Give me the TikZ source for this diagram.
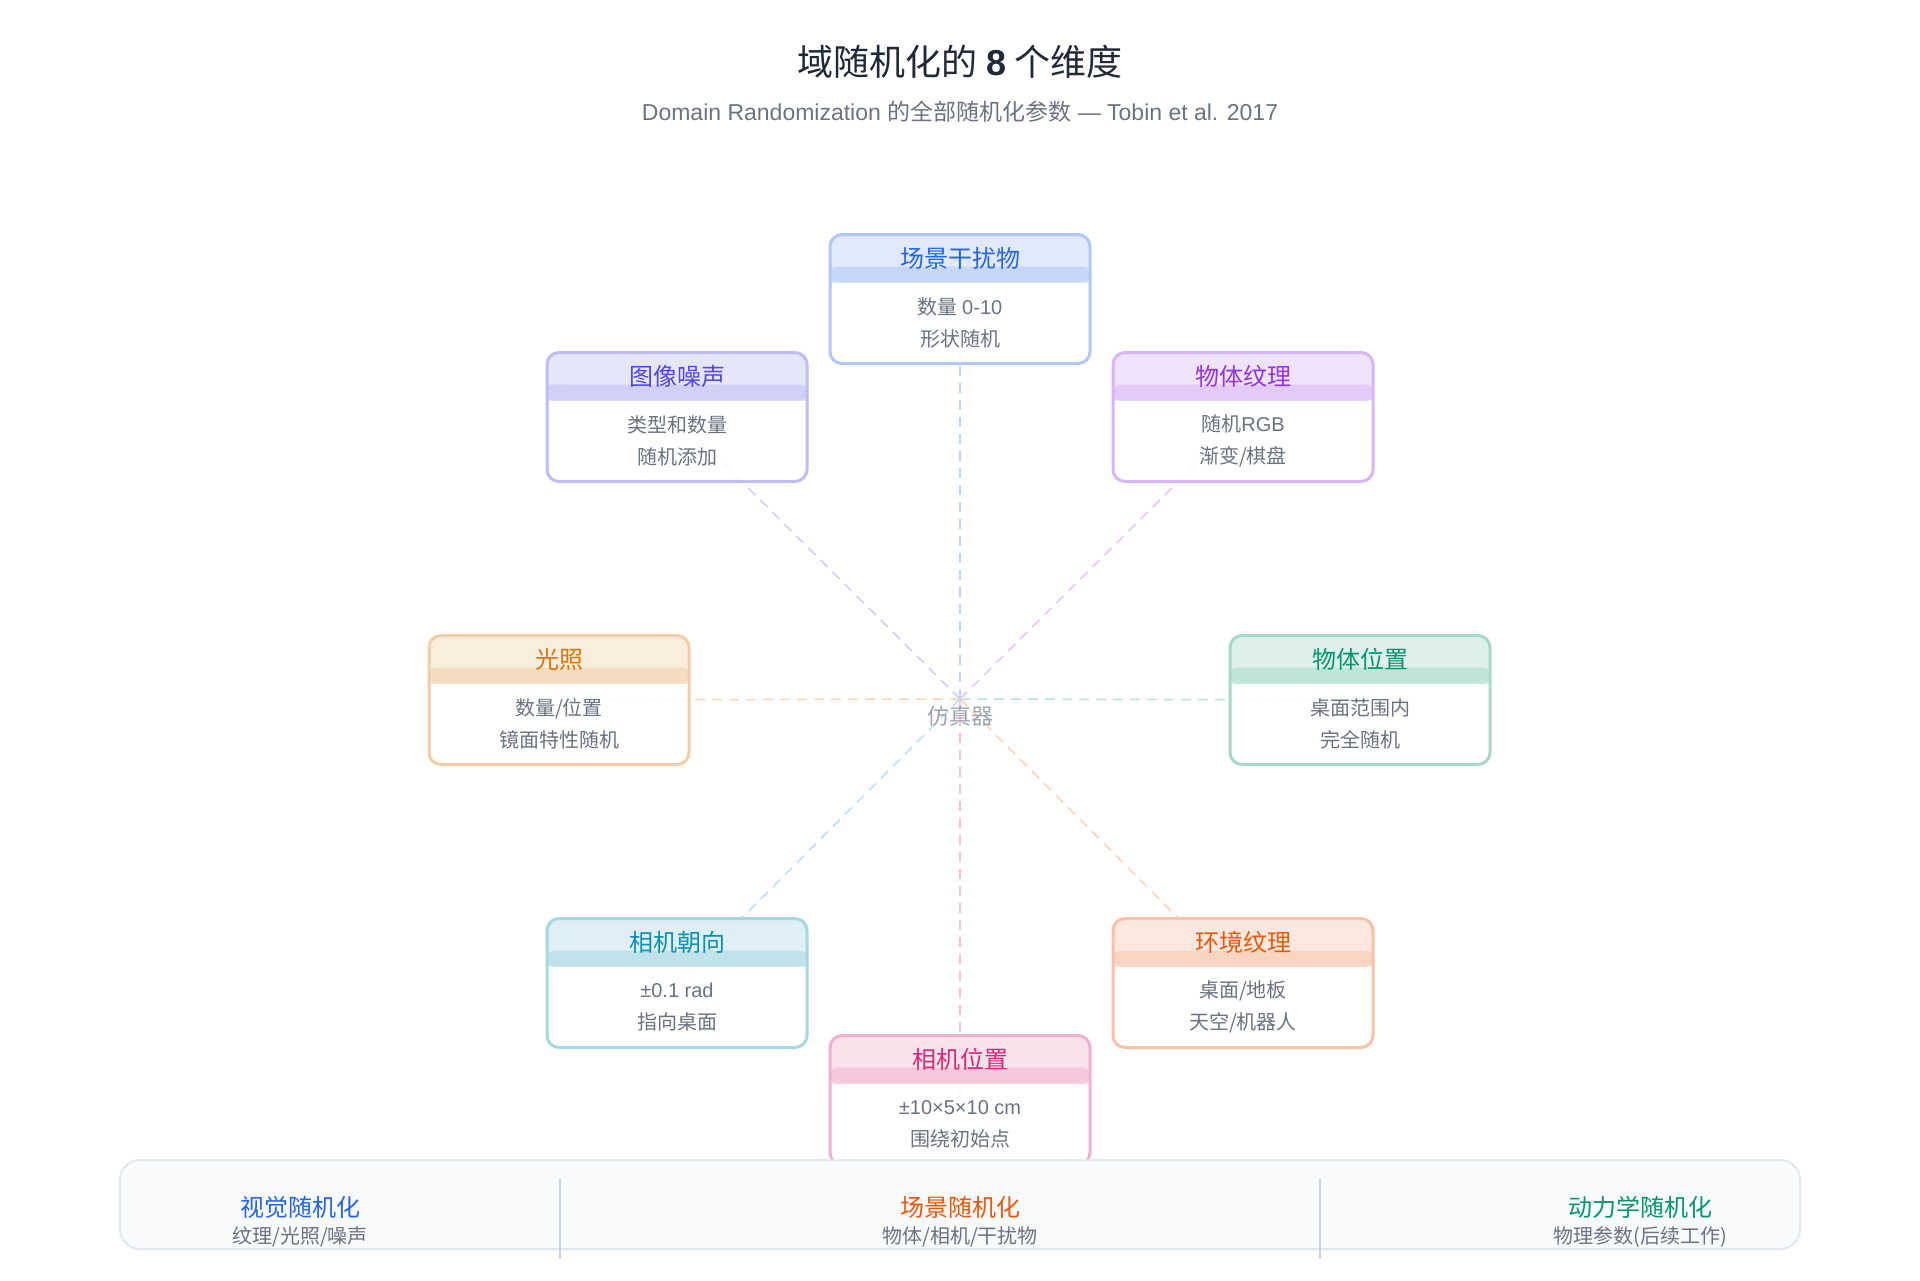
\documentclass[tikz,border=0pt]{standalone}
\usepackage{fontspec}
\setmainfont{Noto Sans CJK SC}
\newfontfamily\latin{Liberation Sans}
\usetikzlibrary{positioning}
\definecolor{ink}{HTML}{1F2937}
\definecolor{muted}{HTML}{6B7280}
\definecolor{faint}{HTML}{9CA3AF}
\definecolor{barfill}{HTML}{F8FAFC}
\definecolor{barline}{HTML}{E2E8F0}
\definecolor{sepline}{HTML}{CBD5E1}
\definecolor{distractcolor}{HTML}{2563EB}
\definecolor{noisecolor}{HTML}{4F46E5}
\definecolor{texturecolor}{HTML}{9333EA}
\definecolor{lightcolor}{HTML}{D97706}
\definecolor{objposcolor}{HTML}{059669}
\definecolor{camdircolor}{HTML}{0891B2}
\definecolor{envcolor}{HTML}{EA580C}
\definecolor{camposcolor}{HTML}{DB2777}
\pgfdeclarelayer{spokes}
\pgfsetlayers{spokes,main}
\tikzset{
  dimbox/.style={
    draw=#1!36, line width=1.5pt, rounded corners=6pt,
    fill=white, fill opacity=0.88, text opacity=1,
    minimum width=130pt, minimum height=64.5pt, inner sep=0pt,
    path picture={
      \fill[#1!15, sharp corners]
        (path picture bounding box.north west)
        rectangle ([yshift=-24pt]path picture bounding box.north east);
      \fill[#1!27, rounded corners=3.5pt]
        ([yshift=-16pt]path picture bounding box.north west)
        rectangle ([yshift=-24pt]path picture bounding box.north east);
    }
  },
  dimtitle/.style={text=#1, font=\fontsize{12}{14}\selectfont, inner sep=0pt},
  dimbody/.style={text=muted, align=center, font=\fontsize{10}{16}\selectfont, inner sep=0pt},
  spoke/.style={draw=#1!28, line width=0.75pt, dash pattern=on 5pt off 3.5pt},
  groupname/.style={text=#1, font=\fontsize{12}{14}\selectfont, inner sep=0pt},
  groupnote/.style={text=muted, font=\fontsize{10}{12}\selectfont, inner sep=0pt}
}

\begin{document}
\begin{tikzpicture}[x=0.5pt, y=-0.5pt]

  \useasboundingbox (0,0) rectangle (1920,1280);

  % Title.
  \node[text=ink, font=\fontsize{18}{22}\selectfont] (title) at (960,62)
    {域随机化的 {\latin\bfseries 8} 个维度};
  \node[text=muted, font=\fontsize{11.5}{13}\selectfont] (subtitle) at (960,112)
    {{\latin Domain Randomization }的全部随机化参数{\latin{} — Tobin et al. 2017}};

  % Simulator at the centre.
  \coordinate (sim) at (960,699);
  \node[text=faint, font=\fontsize{11}{13}\selectfont] (simname) at (960,716) {仿真器};

  % The eight dimensions on a circle of radius 400.
  \node[dimbox=distractcolor] (distract) at (960,299) {};
  \node[dimtitle=distractcolor] (distract-t) at ([yshift=-12.5pt]distract.north) {场景干扰物};
  \node[dimbody] (distract-b) at ([yshift=-12pt]distract.center) {数量 {\latin 0-10}\\形状随机};

  \node[dimbox=noisecolor] (noise) at (677,417) {};
  \node[dimtitle=noisecolor] (noise-t) at ([yshift=-12.5pt]noise.north) {图像噪声};
  \node[dimbody] (noise-b) at ([yshift=-12pt]noise.center) {类型和数量\\随机添加};

  \node[dimbox=texturecolor] (texture) at (1243,417) {};
  \node[dimtitle=texturecolor] (texture-t) at ([yshift=-12.5pt]texture.north) {物体纹理};
  \node[dimbody] (texture-b) at ([yshift=-12pt]texture.center) {随机{\latin RGB}\\渐变/棋盘};

  \node[dimbox=lightcolor] (light) at (559,700) {};
  \node[dimtitle=lightcolor] (light-t) at ([yshift=-12.5pt]light.north) {光照};
  \node[dimbody] (light-b) at ([yshift=-12pt]light.center) {数量/位置\\镜面特性随机};

  \node[dimbox=objposcolor] (objpos) at (1360,700) {};
  \node[dimtitle=objposcolor] (objpos-t) at ([yshift=-12.5pt]objpos.north) {物体位置};
  \node[dimbody] (objpos-b) at ([yshift=-12pt]objpos.center) {桌面范围内\\完全随机};

  \node[dimbox=camdircolor] (camdir) at (677,983) {};
  \node[dimtitle=camdircolor] (camdir-t) at ([yshift=-12.5pt]camdir.north) {相机朝向};
  \node[dimbody] (camdir-b) at ([yshift=-12pt]camdir.center) {{\latin ±0.1 rad}\\指向桌面};

  \node[dimbox=envcolor] (env) at (1243,983) {};
  \node[dimtitle=envcolor] (env-t) at ([yshift=-12.5pt]env.north) {环境纹理};
  \node[dimbody] (env-b) at ([yshift=-12pt]env.center) {桌面/地板\\天空/机器人};

  \node[dimbox=camposcolor] (campos) at (960,1100) {};
  \node[dimtitle=camposcolor] (campos-t) at ([yshift=-12.5pt]campos.north) {相机位置};
  \node[dimbody] (campos-b) at ([yshift=-12pt]campos.center) {{\latin ±10×5×10 cm}\\围绕初始点};

  % Dashed spokes, kept behind the boxes.
  \begin{pgfonlayer}{spokes}
    \draw[spoke=distractcolor] (sim) -- (distract.center);
    \draw[spoke=noisecolor] (sim) -- (noise.center);
    \draw[spoke=texturecolor] (sim) -- (texture.center);
    \draw[spoke=lightcolor] (sim) -- (light.center);
    \draw[spoke=objposcolor] (sim) -- (objpos.center);
    \draw[spoke=camdircolor] (sim) -- (camdir.center);
    \draw[spoke=envcolor] (sim) -- (env.center);
    \draw[spoke=camposcolor] (sim) -- (campos.center);
  \end{pgfonlayer}

  % Grouping bar.
  \node[draw=barline, fill=barfill, line width=1pt, rounded corners=10pt,
    minimum width=840pt, minimum height=44.5pt] (bar) at (960,1204.5) {};
  \coordinate (sepA-top) at (560,1179);
  \coordinate (sepA-bot) at (560,1259);
  \coordinate (sepB-top) at (1320,1179);
  \coordinate (sepB-bot) at (1320,1259);
  \draw[sepline, line width=1pt] (sepA-top) -- (sepA-bot);
  \draw[sepline, line width=1pt] (sepB-top) -- (sepB-bot);

  \node[groupname=distractcolor] (visual) at (300,1207) {视觉随机化};
  \node[groupnote] (visual-n) at (300,1237) {纹理/光照/噪声};
  \node[groupname=envcolor] (scene) at (960,1207) {场景随机化};
  \node[groupnote] (scene-n) at (960,1237) {物体/相机/干扰物};
  \node[groupname=objposcolor] (dynamics) at (1640,1207) {动力学随机化};
  \node[groupnote] (dynamics-n) at (1640,1237) {物理参数(后续工作)};

\end{tikzpicture}
\end{document}
